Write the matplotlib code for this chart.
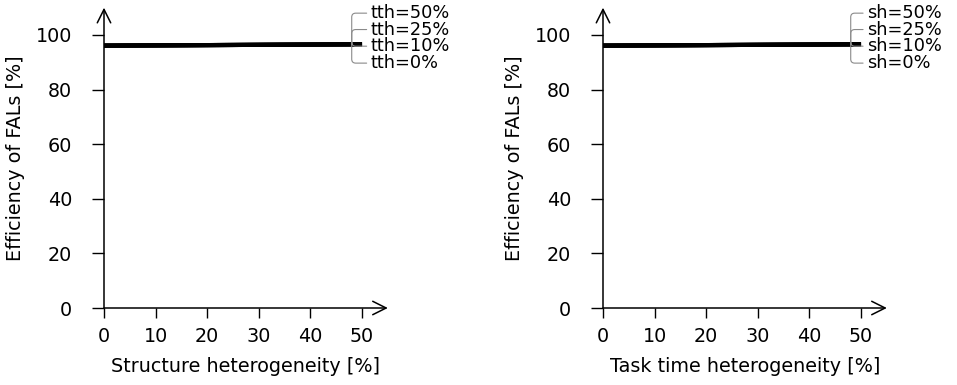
"""
Efficiency of FALs vs. structure / task time heterogeneity (two panels).
Output: out.png
"""
import matplotlib
matplotlib.use("Agg")
import matplotlib.pyplot as plt

plt.rcParams.update({
    "font.family": "DejaVu Sans",
    "font.size":   13.8,
})

# Data
heterogeneity = [0, 10, 20, 30, 40, 50]

structure_levels = ["tth=50%", "tth=25%", "tth=10%", "tth=0%"]
structure_eff = [
    [96.1, 96.2, 96.3, 96.4, 96.5, 96.6],
    [96.1, 96.2, 96.3, 96.4, 96.5, 96.6],
    [96.1, 96.2, 96.3, 96.4, 96.5, 96.6],
    [96.1, 96.2, 96.3, 96.4, 96.5, 96.6],
]

tasktime_levels = ["sh=50%", "sh=25%", "sh=10%", "sh=0%"]
tasktime_eff = [
    [96.1, 96.2, 96.3, 96.4, 96.5, 96.6],
    [96.1, 96.2, 96.3, 96.4, 96.5, 96.6],
    [96.1, 96.2, 96.3, 96.4, 96.5, 96.6],
    [96.1, 96.2, 96.3, 96.4, 96.5, 96.6],
]

x_ticks = [0, 10, 20, 30, 40, 50]
y_ticks = [0, 20, 40, 60, 80, 100]
label_y = [108.0, 102.0, 95.9, 89.7]

fig = plt.figure(figsize=(9.57, 3.85), dpi=100)


def draw_panel(ax, series, names, xlabel, label_x):
    for vals in series:
        ax.plot(heterogeneity, vals, color="black", lw=3.0, solid_capstyle="butt",
                clip_on=False, zorder=3)

    for name, vals, ly in zip(names, series, label_y):
        ax.annotate(name, xy=(48, vals[-1] - 0.1), xytext=(label_x, ly),
                    textcoords="data", va="center", ha="left", fontsize=12.8,
                    annotation_clip=False,
                    arrowprops=dict(arrowstyle="-", color="#8a8a8a", lw=0.8,
                                    shrinkA=1, shrinkB=0,
                                    connectionstyle="angle,angleA=0,angleB=90,rad=4"))

    ax.set_xlim(0, 55)
    ax.set_ylim(0, 110)
    for s in ax.spines.values():
        s.set_visible(False)
    ax.set_xticks(x_ticks)
    ax.set_yticks(y_ticks)
    ax.tick_params(axis="x", length=7.5, width=1.0, pad=6)
    ax.tick_params(axis="y", length=9, width=1.0, pad=14)

    # axis arrows
    arrow = dict(arrowstyle="->,head_length=0.7,head_width=0.35", lw=1.1,
                 color="black", shrinkA=0, shrinkB=0)
    ax.annotate("", xy=(1, 0), xytext=(0, 0), xycoords="axes fraction",
                arrowprops=arrow, annotation_clip=False)
    ax.annotate("", xy=(0, 1), xytext=(0, 0), xycoords="axes fraction",
                arrowprops=arrow, annotation_clip=False)

    ax.set_xlabel(xlabel, labelpad=8)
    ax.set_ylabel("Efficiency of FALs [%]", labelpad=8)


ax1 = fig.add_axes([104 / 957, 0.2, 0.2966, 0.78])
draw_panel(ax1, structure_eff, structure_levels, "Structure heterogeneity [%]", 51.7)

ax2 = fig.add_axes([603 / 957, 0.2, 0.2966, 0.78])
draw_panel(ax2, tasktime_eff, tasktime_levels, "Task time heterogeneity [%]", 51.2)

fig.savefig("out.png", dpi=100)
plt.close(fig)
